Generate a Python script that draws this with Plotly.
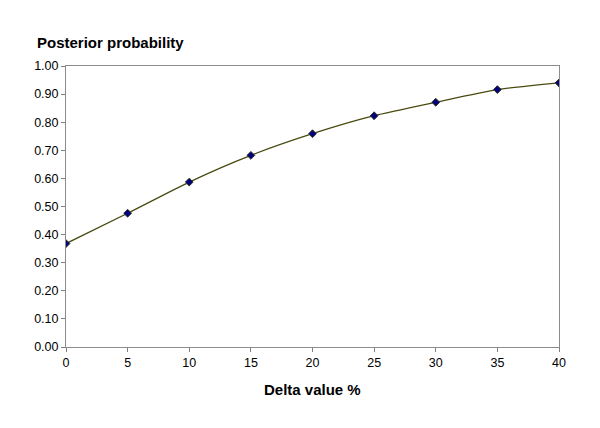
import plotly.graph_objects as go

# === Data ===
delta = [0, 5, 10, 15, 20, 25, 30, 35, 40]
posterior = [0.368, 0.476, 0.587, 0.682, 0.759, 0.823, 0.871, 0.916, 0.940]
x_ticks = [0, 5, 10, 15, 20, 25, 30, 35, 40]
y_ticks = [0.0, 0.1, 0.2, 0.3, 0.4, 0.5, 0.6, 0.7, 0.8, 0.9, 1.0]

trace = go.Scatter(
    x=delta, y=posterior,
    mode='lines+markers',
    line=dict(color='#4a4a10', width=1.3, shape='spline', smoothing=0.6),
    marker=dict(symbol='diamond', size=6, color='#000080',
                line=dict(color='#33331a', width=1)),
    hoverinfo='x+y')

fig = go.Figure(data=[trace])

# page offset of ~7px is compensated in the margins
fig.update_layout(
    width=600, height=428,
    paper_bgcolor='white', plot_bgcolor='white',
    showlegend=False,
    margin=dict(l=58, r=49, t=58, b=89),
    font=dict(family='Liberation Sans, Arial, sans-serif', size=12, color='black'))

fig.update_xaxes(
    range=[0, 40], tickvals=x_ticks, ticks='outside', ticklen=4,
    tickcolor='#808080', showline=True, linecolor='#8c8c8c', linewidth=1,
    mirror=True, showgrid=False, zeroline=False,
    tickfont=dict(size=12.5))

fig.update_yaxes(
    range=[0, 1], tickvals=y_ticks, tickformat='.2f', ticks='outside', ticklen=4,
    tickcolor='#808080', showline=True, linecolor='#8c8c8c', linewidth=1,
    mirror=True, showgrid=False, zeroline=False,
    tickfont=dict(size=12.5))

fig.add_annotation(text='<b>Posterior probability</b>', xref='paper', yref='paper',
                   x=-0.063, y=1.085, xanchor='left', yanchor='middle',
                   showarrow=False, font=dict(size=15))
fig.add_annotation(text='<b>Delta value %</b>', xref='paper', yref='paper',
                   x=0.5, y=-0.153, xanchor='center', yanchor='middle',
                   showarrow=False, font=dict(size=15))

fig.write_html("out.html")
